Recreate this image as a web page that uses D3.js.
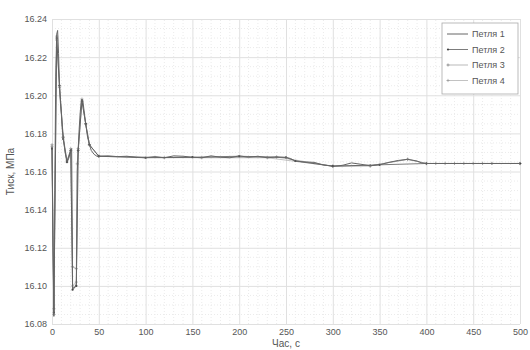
<!DOCTYPE html>
<html>
<head>
<meta charset="utf-8">
<script src="https://cdn.jsdelivr.net/npm/d3@7"></script>
<style>
  body { margin: 0; background: #fff; }
  svg { font-family: "Liberation Sans", Arial, sans-serif; }
</style>
</head>
<body>
<div id="chart"></div>
<script>
// data
const seriesNames = ['Петля 1', 'Петля 2', 'Петля 3', 'Петля 4'];

const time1 = [0, 1, 2, 3, 4, 5, 6, 7, 8, 9, 10, 11, 12, 14, 16, 18, 20, 21, 21.5, 22, 24, 26, 26.5, 27, 28, 29, 30, 31, 32, 33, 34, 36, 38, 40, 42, 45, 48, 50,
  60, 70, 80, 90, 100, 110, 120, 130, 140, 150, 160, 170, 180, 190, 200, 210, 220, 230, 240, 250, 255, 260, 270, 280, 290, 300,
  310, 320, 330, 340, 350, 360, 370, 380, 390, 395, 400, 450, 500];
const value1 = [16.173, 16.12, 16.084, 16.15, 16.21, 16.232, 16.234, 16.222, 16.205, 16.196, 16.19, 16.182, 16.178, 16.170, 16.165, 16.167, 16.171, 16.172, 16.14, 16.099, 16.099, 16.101, 16.13, 16.16, 16.172, 16.182, 16.19, 16.196, 16.198, 16.197, 16.193, 16.185, 16.178, 16.174, 16.171, 16.169, 16.168, 16.168,
  16.1682, 16.1678, 16.168, 16.1675, 16.1672, 16.1678, 16.1672, 16.1682, 16.168, 16.1675, 16.1672, 16.1682, 16.1675, 16.1672, 16.1682, 16.1675, 16.168, 16.1672, 16.1676, 16.1674, 16.1668, 16.1655, 16.165, 16.1648, 16.1634, 16.1628,
  16.1632, 16.1645, 16.1638, 16.163, 16.1635, 16.1648, 16.1658, 16.1664, 16.1655, 16.1645, 16.1642, 16.1642, 16.1642];

const time2 = [0, 2, 5, 8, 12, 16, 20, 22, 26, 28, 32, 36, 40, 50, 100, 150, 200, 250, 260, 300, 350, 400, 470, 500];
const value2 = [16.172, 16.086, 16.230, 16.205, 16.177, 16.165, 16.171, 16.098, 16.100, 16.171, 16.197, 16.185, 16.174, 16.168, 16.1672, 16.1675, 16.1680, 16.1674, 16.1655, 16.1628, 16.1635, 16.1642, 16.1642, 16.1642];

const time3 = [0, 2, 5, 8, 12, 16, 20, 22, 26, 27, 28, 32, 36, 40, 50, 120, 240, 300, 340, 380, 400, 410, 420, 430, 440, 450, 460, 500];
const value3 = [16.174, 16.088, 16.229, 16.204, 16.178, 16.166, 16.171, 16.110, 16.109, 16.164, 16.172, 16.197, 16.185, 16.174, 16.168, 16.1672, 16.1676, 16.1628, 16.1630, 16.1664, 16.1642, 16.1642, 16.1642, 16.1642, 16.1642, 16.1642, 16.1642, 16.1642];

const time4 = [0, 2, 5, 8, 12, 16, 20, 22, 26, 28, 32, 36, 40, 50, 160, 230, 300, 340, 380, 400, 500];
const value4 = [16.173, 16.085, 16.231, 16.205, 16.178, 16.165, 16.172, 16.100, 16.102, 16.171, 16.198, 16.185, 16.174, 16.168, 16.1672, 16.1672, 16.1628, 16.1630, 16.1664, 16.1642, 16.1642];

const xTicks = [0, 50, 100, 150, 200, 250, 300, 350, 400, 450, 500];
const yTicks = [16.08, 16.10, 16.12, 16.14, 16.16, 16.18, 16.20, 16.22, 16.24];

const W = 530, H = 350;
const margin = { top: 19, right: 10, bottom: 26, left: 52 };

const svg = d3.select('#chart').append('svg').attr('width', W).attr('height', H);

const x = d3.scaleLinear().domain([0, 500]).range([margin.left, W - margin.right]);
const y = d3.scaleLinear().domain([16.08, 16.24]).range([H - margin.bottom, margin.top]);

// minor grid
svg.append('g')
  .selectAll('line')
  .data(d3.range(0, 501, 10).filter(d => d % 50 !== 0))
  .enter()
  .append('line')
  .attr('x1', d => x(d)).attr('x2', d => x(d))
  .attr('y1', y(16.08)).attr('y2', y(16.24))
  .style('stroke', '#ebebeb').style('stroke-dasharray', '1,2');
svg.append('g')
  .selectAll('line')
  .data(d3.range(0, 33).map(i => 16.08 + i * 0.005).filter((d, i) => i % 4 !== 0))
  .enter()
  .append('line')
  .attr('y1', d => y(d)).attr('y2', d => y(d))
  .attr('x1', x(0)).attr('x2', x(500))
  .style('stroke', '#ebebeb').style('stroke-dasharray', '1,2');

// major grid via axes
svg.append('g')
  .attr('transform', 'translate(0,' + y(16.08) + ')')
  .call(d3.axisBottom(x).tickValues(xTicks).tickSize(-(y(16.08) - y(16.24))).tickPadding(5).tickFormat(d3.format('d')))
  .call(g => g.select('.domain').remove())
  .call(g => g.selectAll('.tick line').style('stroke', '#e0e0e0'))
  .call(g => g.selectAll('.tick text').style('fill', '#555').style('font-size', '9px'));

svg.append('g')
  .attr('transform', 'translate(' + x(0) + ',0)')
  .call(d3.axisLeft(y).tickValues(yTicks).tickSize(-(x(500) - x(0))).tickPadding(5).tickFormat(d3.format('.2f')))
  .call(g => g.select('.domain').remove())
  .call(g => g.selectAll('.tick line').style('stroke', '#e0e0e0'))
  .call(g => g.selectAll('.tick text').style('fill', '#555').style('font-size', '9px'));

// axis titles
svg.append('text')
  .attr('x', (x(0) + x(500)) / 2).attr('y', 347)
  .attr('text-anchor', 'middle')
  .style('font-size', '10px').style('fill', '#555')
  .text('Час, с');
svg.append('text')
  .attr('transform', 'translate(14,' + (y(16.08) + y(16.24)) / 2 + ') rotate(-90)')
  .attr('text-anchor', 'middle')
  .style('font-size', '10px').style('fill', '#555')
  .text('Тиск, МПа');

const line = d3.line().x(d => x(d[0])).y(d => y(d[1]));
const series = [
  { name: seriesNames[0], pts: d3.zip(time1, value1), color: '#666', width: 1, marker: 'none' },
  { name: seriesNames[1], pts: d3.zip(time2, value2), color: '#444', width: 0.7, marker: 'dot' },
  { name: seriesNames[2], pts: d3.zip(time3, value3), color: '#8a8a8a', width: 0.6, marker: 'plus' },
  { name: seriesNames[3], pts: d3.zip(time4, value4), color: '#999', width: 0.6, marker: 'plus' },
];

function drawMarker(g, type, cx, cy, color) {
  if (type === 'dot') {
    g.append('circle').attr('cx', cx).attr('cy', cy).attr('r', 1.1).style('fill', color);
  } else if (type === 'plus') {
    g.append('path').attr('d', `M${cx - 1.6},${cy}H${cx + 1.6}M${cx},${cy - 1.6}V${cy + 1.6}`)
      .style('stroke', color).style('stroke-width', 0.7);
  }
}

const plot = svg.append('g');
series.slice().reverse().forEach(s => {
  plot.append('path')
    .attr('d', line(s.pts))
    .style('fill', 'none')
    .style('stroke', s.color)
    .style('stroke-width', s.width);
  const mg = plot.append('g');
  if (s.marker !== 'none') s.pts.forEach(p => drawMarker(mg, s.marker, x(p[0]), y(p[1]), s.color));
});

// legend
const lg = svg.append('g').attr('transform', 'translate(442,23)');
lg.append('rect').attr('width', 76).attr('height', 71)
  .style('fill', '#fff').style('stroke', '#aaa').style('stroke-width', 0.8);
series.forEach((s, i) => {
  const ly = 11 + i * 15.5;
  lg.append('line').attr('x1', 5).attr('x2', 26).attr('y1', ly).attr('y2', ly)
    .style('stroke', s.color).style('stroke-width', s.width);
  drawMarker(lg, s.marker, 6, ly, s.color);
  lg.append('text').attr('x', 30).attr('y', ly + 3.2)
    .style('font-size', '9px').style('fill', '#555')
    .text(s.name);
});
</script>
</body>
</html>
